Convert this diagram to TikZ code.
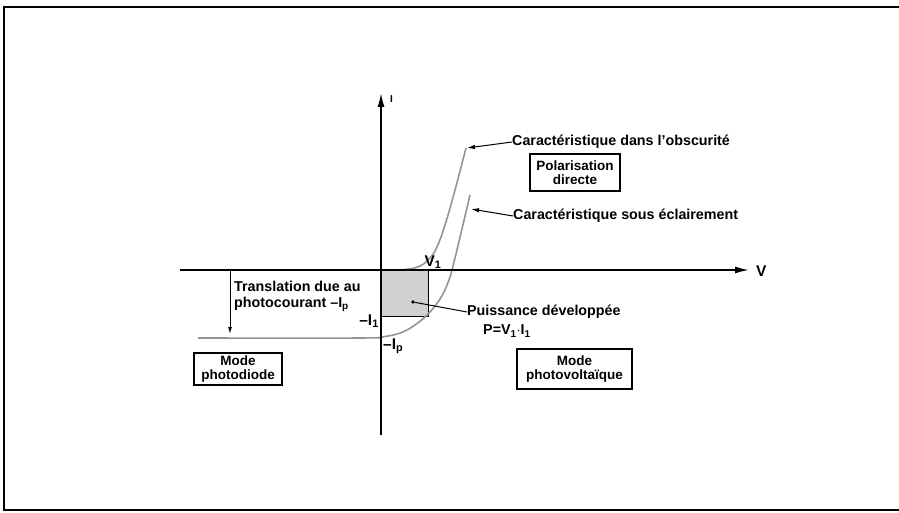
\documentclass[tikz,border=0pt]{standalone}
\usepackage{fontspec}
\setmainfont{Liberation Sans}
\usetikzlibrary{arrows.meta}
\tikzset{
  axisline/.style={line width=1.6pt, -{Latex[length=14pt,width=7pt]}},
  curveline/.style={line width=1.6pt, black!42},
  modebox/.style={draw, line width=1.2pt, align=center, inner sep=0pt, font=\bfseries\fontsize{13.5}{14}\selectfont},
  txt/.style={inner sep=0pt, font=\bfseries\fontsize{14.3}{15.5}\selectfont},
  big/.style={inner sep=0pt, font=\bfseries\fontsize{15.5}{16}\selectfont},
  pointer/.style={line width=1pt, -{Latex[length=8pt,width=4.5pt]}},
  frameline/.style={line width=1.8pt}
}
\begin{document}
\begin{tikzpicture}[x=1pt,y=-1pt]
\useasboundingbox (0,0) rectangle (899,513);
% frame
\coordinate (fTR) at (899,7);
\coordinate (fTL) at (4,7);
\coordinate (fBL) at (4,510);
\coordinate (fBR) at (899,510);
\draw[frameline] (fTR) -- (fTL) -- (fBL) -- (fBR);
% shaded power rectangle
\coordinate (O) at (381,270);
\coordinate (Q) at (428,316);
\fill[black!18] (O) rectangle (Q);
\draw[line width=1pt] (O -| Q) -- (Q) -- (O |- Q);
% curves
\draw[curveline] plot[smooth, tension=0.6] coordinates {(381,270) (405,269.5) (420,266) (430,258) (437,247) (445,225) (455,190) (466,148)};
\draw[curveline] plot[smooth, tension=0.6] coordinates {(198,338) (360,338) (385,336.5) (405,331) (425,317) (440,299) (449,280) (454,262) (461,233) (470,195)};
% axes
\coordinate (xstart) at (180,270);
\coordinate (xend) at (749,270);
\coordinate (ystart) at (381,435);
\coordinate (yend) at (381,93);
\draw[axisline] (xstart) -- (xend);
\draw[axisline] (ystart) -- (yend);
\node[big, anchor=west] (V) at (756,271) {V};
\node[inner sep=0pt, font=\bfseries\fontsize{10}{12}\selectfont, anchor=west] (I) at (390,99) {I};
% point labels
\node[big] (V1) at (433,262) {V$_{\mathbf 1}$};
\node[big, anchor=east] (mI1) at (379,321) {–I$_{\mathbf 1}$};
\node[big, anchor=west] (mIp) at (383,346) {–I$_{\mathbf p}$};
% translation
\coordinate (tr1) at (230,271);
\coordinate (tr2) at (230,334);
\draw[line width=1pt, -{Latex[length=7pt,width=4pt]}] (tr1) -- (tr2);
\node[txt, anchor=north west, align=left] (trans) at (234,281) {Translation due au\\photocourant –I$_{\mathbf p}$};
% power label
\node[circle, fill, inner sep=1.3pt] (dot) at (413,302) {};
\node[txt, anchor=west] (puis) at (467,312) {Puissance développée};
\node[txt] (Pform) at (507,331) {P=V$_{\mathbf 1}\cdot$I$_{\mathbf 1}$};
\draw[line width=1pt] (dot) -- (puis.west);
% characteristic captions
\coordinate (darktop) at (467,148);
\coordinate (lighttop) at (471,209);
\node[txt, anchor=west] (obs) at (512,142) {Caractéristique dans l'obscurité};
\node[txt, anchor=west] (ecl) at (513,216) {Caractéristique sous éclairement};
\draw[pointer] (obs.west) -- (darktop);
\draw[pointer] (ecl.west) -- (lighttop);
% mode boxes
\node[modebox, minimum width=90pt, minimum height=37pt] (pol) at (575,172.5) {Polarisation\\directe};
\node[modebox, minimum width=115pt, minimum height=40pt] (pv) at (574.5,369) {Mode\\photovoltaïque};
\node[modebox, minimum width=88pt, minimum height=32pt] (pd) at (238,369) {Mode\\photodiode};
\end{tikzpicture}
\end{document}
